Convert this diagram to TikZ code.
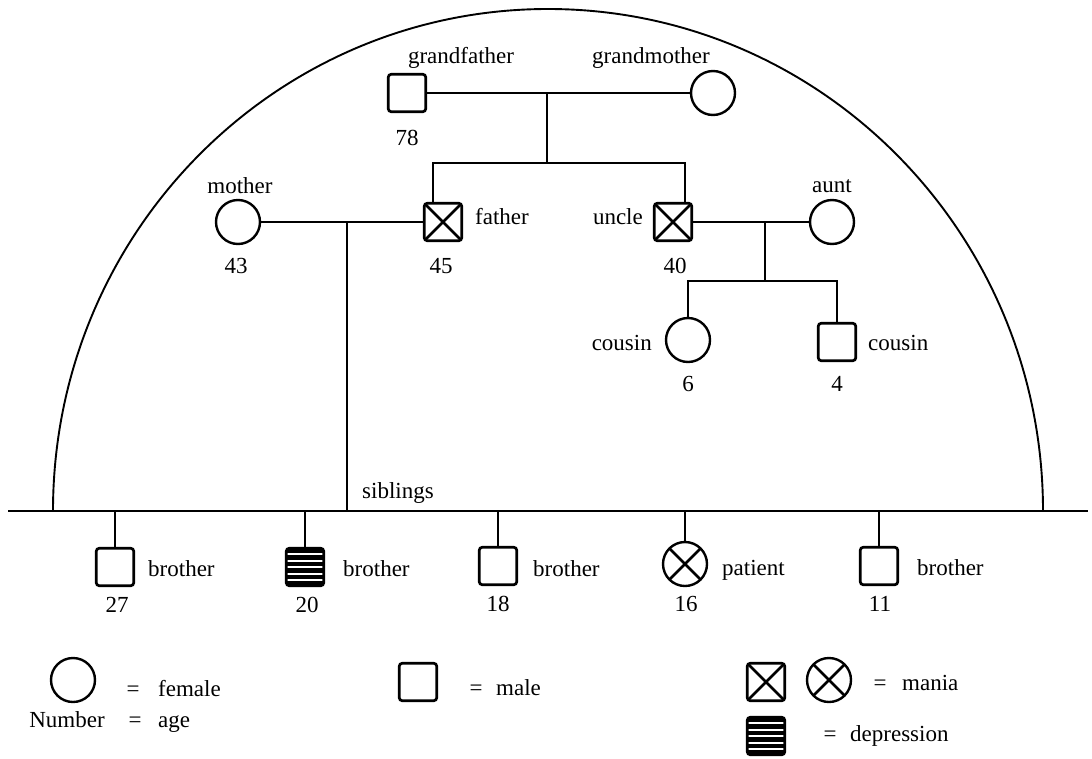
\documentclass[tikz,border=0pt]{standalone}
\usepackage{fontspec}
\setmainfont{Liberation Serif}
\begin{document}
\begin{tikzpicture}[x=1pt,y=-1pt,
  every node/.style={font=\fontsize{23}{27}\selectfont, inner sep=0pt},
  conn/.style={line width=1.9pt},
  male/.style={draw, rectangle, minimum size=37.5pt, line width=2.7pt, rounded corners=3pt, inner sep=0pt},
  female/.style={draw, circle, minimum size=44pt, line width=2.4pt, inner sep=0pt},
  maniaX/.style={path picture={\draw[line width=2.7pt] (path picture bounding box.south west) -- (path picture bounding box.north east) (path picture bounding box.north west) -- (path picture bounding box.south east);}},
  dep/.style={fill=black, path picture={\foreach \k in {-13,-6.5,0,6.5,13} \draw[white, line width=2pt] ([yshift=\k pt]path picture bounding box.west) -- ([yshift=\k pt]path picture bounding box.east);}}
]
\useasboundingbox (0,0) rectangle (1092,758);

% people
\node[male] (gf) at (407,93) {};
\node[female] (gm) at (713,93) {};
\node[male,maniaX] (fa) at (443,222) {};
\node[male,maniaX] (un) at (673,222) {};
\node[female] (mo) at (238,222) {};
\node[female] (au) at (832,222) {};
\node[female] (c1) at (688,340) {};
\node[male] (c2) at (837,342) {};
\node[male] (b27) at (115,567) {};
\node[male,dep] (b20) at (305,567) {};
\node[male] (b18) at (498,566) {};
\node[female,maniaX] (pt) at (685,564) {};
\node[male] (b11) at (879,566) {};

% labels
\node (tgf) at (461,58) {grandfather};
\node (tgm) at (651,58) {grandmother};
\node (a78) at (407,138) {78};
\node (tmo) at (240,186) {mother};
\node (a43) at (236,266) {43};
\node[anchor=west] (tfa) at (475,217) {father};
\node (a45) at (441,266) {45};
\node[anchor=east] (tun) at (643,217) {uncle};
\node (a40) at (675,266) {40};
\node (tau) at (832,186) {aunt};
\node[anchor=east] (tc1) at (652,343) {cousin};
\node (a6) at (688,384) {6};
\node[anchor=west] (tc2) at (868,343) {cousin};
\node (a4) at (837,384) {4};
\node[anchor=west] (tsib) at (362,493) {siblings};
\node[anchor=base west] (tb27) at (148,576) {brother};
\node[anchor=base] (a27) at (117,612) {27};
\node[anchor=base west] (tb20) at (343,576) {brother};
\node[anchor=base] (a20) at (307,612) {20};
\node[anchor=base west] (tb18) at (533,576) {brother};
\node[anchor=base] (a18) at (498,611) {18};
\node[anchor=base west] (tpt) at (722,575) {patient};
\node[anchor=base] (a16) at (686,611) {16};
\node[anchor=base west] (tb11) at (917,575) {brother};
\node[anchor=base] (a11) at (880,611) {11};

% connectors
\draw[conn] (gf.east) -- (gm.west);
\coordinate (j1) at (547,93);
\coordinate (j2) at (547,163);
\draw[conn] (j1) -- (j2);
\coordinate (fx) at (433,163);
\coordinate (ux) at (685,163);
\draw[conn] (fa.north -| fx) |- (ux) -- (un.north -| ux);
\draw[conn] (mo.east) -- (fa.west);
\coordinate (s1) at (347,222);
\coordinate (L) at (8,511);
\coordinate (R) at (1088,511);
\draw[conn] (s1) -- (s1 |- L);
\draw[conn] (un.east) -- (au.west);
\coordinate (k1) at (765,222);
\coordinate (k2) at (765,281);
\draw[conn] (k1) -- (k2);
\draw[conn] (c1.north) |- (k2) -| (c2.north);
\draw[conn] (L) -- (R);
\foreach \n in {b27,b20,b18,pt,b11} \draw[conn] (\n.north) -- (\n.north |- L);
\coordinate (arcL) at (53,511);
\draw[conn] (arcL) arc[start angle=180, end angle=0, x radius=495pt, y radius=502pt];

% legend
\node[female] (lf) at (73,680) {};
\node[anchor=base] (lfe) at (133,696) {=};
\node[anchor=base west] (lft) at (158,696) {female};
\node[anchor=base] (lnum) at (67,727) {Number};
\node[anchor=base] (lne) at (135,727) {=};
\node[anchor=base west] (lnt) at (158,727) {age};
\node[male] (lm) at (418,682) {};
\node[anchor=base] (lme) at (476,695) {=};
\node[anchor=base west] (lmt) at (496,695) {male};
\node[male,maniaX] (lx) at (766,682) {};
\node[female,maniaX] (lc) at (829,680) {};
\node[anchor=base] (lxe) at (880,690) {=};
\node[anchor=base west] (lxt) at (902,690) {mania};
\node[male,dep] (ld) at (766,736) {};
\node[anchor=base] (lde) at (830,741) {=};
\node[anchor=base west] (ldt) at (850,741) {depression};
\end{tikzpicture}
\end{document}
